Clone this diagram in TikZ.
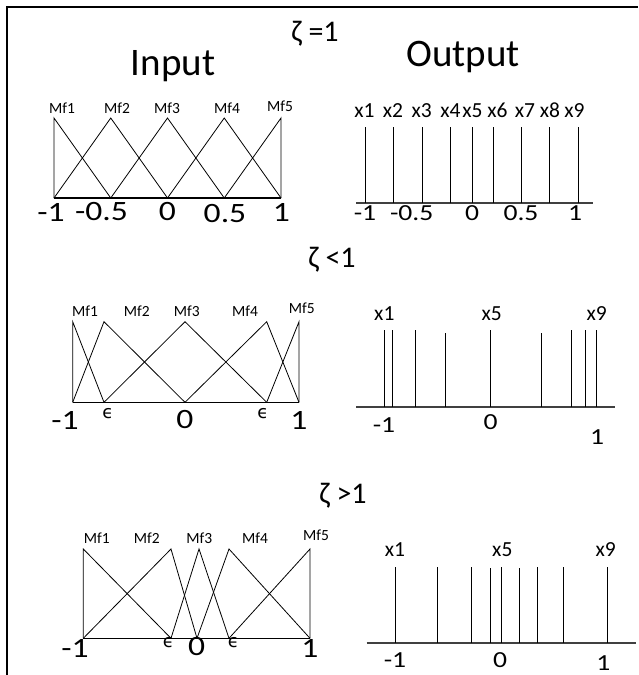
\documentclass[tikz,border=0pt]{standalone}
\usepackage{fontspec}
\setmainfont{Carlito}
\newfontfamily\epsfont{DejaVu Sans}
% tick numbers are set a little wider than the body font
\newcommand{\widenum}[1]{\scalebox{1.2}[1]{#1}}
\begin{document}
\begin{tikzpicture}[x=1pt,y=-1pt,
  frame/.style={line width=2pt},
  mf/.style={line width=0.8pt},
  axisin/.style={line width=1.2pt},
  axisout/.style={line width=1.6pt, black!75},
  spike/.style={line width=1pt},
  head/.style={font=\fontsize{39}{43}\selectfont, anchor=base, inner sep=0pt},
  zeta/.style={font=\fontsize{30}{34}\selectfont, anchor=base, inner sep=0pt},
  mflab/.style={font=\fontsize{15.5}{18}\selectfont, anchor=base, inner sep=0pt},
  xlab/.style={font=\fontsize{21.5}{25}\selectfont, anchor=base, inner sep=0pt},
  numin/.style={font=\fontsize{28}{32}\selectfont, inner sep=0pt},
  numout/.style={font=\fontsize{23}{27}\selectfont, inner sep=0pt},
  eps/.style={font=\epsfont\fontsize{18}{21}\selectfont, inner sep=0pt}]
\useasboundingbox (0,0) rectangle (638,675);

% border
\coordinate (fb) at (7,675);
\coordinate (fc) at (7,7);
\coordinate (fr) at (638,7);
\draw[frame] (fb) -- (fc) -- (fr);

% headings
\node[zeta] (z1) at (315,41) {ζ =1};
\node[head] (inp) at (173,75) {Input};
\node[head] (outp) at (463,66.5) {Output};
\node[zeta] (z2) at (332,267.3) {ζ <1};
\node[zeta] (z3) at (343,503.3) {ζ >1};

% ---------- zeta = 1 : input membership functions ----------
\foreach \i/\x in {1/54,2/110.75,3/167.5,4/224.25,5/281}{
  \coordinate (A\i) at (\x,198);
  \coordinate (P\i) at (\x,118);
}
\draw[axisin] (A1) -- (A5);
\draw[mf] (A1) -- (P1) -- (A2);
\draw[mf] (A1) -- (P2) -- (A3);
\draw[mf] (A2) -- (P3) -- (A4);
\draw[mf] (A3) -- (P4) -- (A5);
\draw[mf] (A4) -- (P5) -- (A5);
\node[mflab] (am1) at (62,113) {Mf1};
\node[mflab] (am2) at (117,113) {Mf2};
\node[mflab] (am3) at (167,113) {Mf3};
\node[mflab] (am4) at (227,113) {Mf4};
\node[mflab] (am5) at (280,111) {Mf5};
\node[numin] (an1) at (51,212) {\widenum{-1}};
\node[numin] (an2) at (101.5,212) {\widenum{-0.5}};
\node[numin] (an3) at (167.5,212) {\widenum{0}};
\node[numin] (an4) at (225,214) {\widenum{0.5}};
\node[numin] (an5) at (281.5,212) {\widenum{1}};

% ---------- zeta = 1 : output singletons ----------
\coordinate (BL) at (356,203);
\coordinate (BR) at (592.7,203);
\draw[axisout] (BL) -- (BR);
\foreach \i/\x/\lx in {1/365.7/364.5,2/393.7/393,3/422/421.7,4/450.3/450.5,5/472.3/472.5,6/493/497.5,7/521.3/525,8/549.7/550,9/578/574.5}{
  \coordinate (Bb\i) at (\x,203);
  \coordinate (Bt\i) at (\x,127);
  \draw[spike] (Bb\i) -- (Bt\i);
  \node[xlab] (bx\i) at (\lx,117) {x\i};
}
\node[numout] (bn1) at (365,213) {\widenum{-1}};
\node[numout] (bn2) at (411.7,213) {\widenum{-0.5}};
\node[numout] (bn3) at (472,213) {\widenum{0}};
\node[numout] (bn4) at (521,213) {\widenum{0.5}};
\node[numout] (bn5) at (575,213) {\widenum{1}};

% ---------- zeta < 1 : input membership functions ----------
\foreach \i/\x in {1/72.7,2/104,3/185,4/266.7,5/299}{
  \coordinate (C\i) at (\x,402.3);
  \coordinate (Q\i) at (\x,321.7);
}
\draw[axisin] (C1) -- (C5);
\draw[mf] (C1) -- (Q1) -- (C2);
\draw[mf] (C1) -- (Q2) -- (C3);
\draw[mf] (C2) -- (Q3) -- (C4);
\draw[mf] (C3) -- (Q4) -- (C5);
\draw[mf] (C4) -- (Q5) -- (C5);
\node[mflab] (cm1) at (85,316) {Mf1};
\node[mflab] (cm2) at (136.7,316) {Mf2};
\node[mflab] (cm3) at (186.7,316) {Mf3};
\node[mflab] (cm4) at (245,316) {Mf4};
\node[mflab] (cm5) at (301.7,313.3) {Mf5};
\node[numin] (cn1) at (65,420) {\widenum{-1}};
\node[eps] (ce1) at (108,414) {ϵ};
\node[numin] (cn3) at (185,420) {\widenum{0}};
\node[eps] (ce2) at (263,414) {ϵ};
\node[numin] (cn5) at (299,420) {\widenum{1}};

% ---------- zeta < 1 : output singletons ----------
\coordinate (DL) at (356,406.7);
\coordinate (DR) at (615,406.7);
\draw[axisout] (DL) -- (DR);
\foreach \i/\x/\t in {1/384.3/330,2/392.7/330,3/415.7/330,4/445/332.7,5/490.7/330,6/541.3/332.7,7/571/330,8/585.7/330,9/596.7/330}{
  \coordinate (Db\i) at (\x,406.7);
  \coordinate (Dt\i) at (\x,\t);
  \draw[spike] (Db\i) -- (Dt\i);
}
\node[xlab] (dx1) at (384.3,320) {x1};
\node[xlab] (dx5) at (491.7,320) {x5};
\node[xlab] (dx9) at (596.7,320) {x9};
\node[numout] (dn1) at (384,425) {\widenum{-1}};
\node[numout] (dn2) at (490.7,422) {\widenum{0}};
\node[numout] (dn3) at (597,437) {\widenum{1}};

% ---------- zeta > 1 : input membership functions ----------
\coordinate (E1) at (83.3,638.3);
\coordinate (E2) at (171,638.3);
\coordinate (E3) at (197,638.3);
\coordinate (E4) at (229,638.3);
\coordinate (E5) at (310,638.3);
\coordinate (R1) at (83.3,549);
\coordinate (R2) at (171,549);
\coordinate (R3) at (199,549);
\coordinate (R4) at (229,549);
\coordinate (R5) at (310,549);
\draw[axisin] (E1) -- (E5);
\draw[mf] (E1) -- (R1) -- (E2);
\draw[mf] (E1) -- (R2) -- (E3);
\draw[mf] (E2) -- (R3) -- (E4);
\draw[mf] (E3) -- (R4) -- (E5);
\draw[mf] (E4) -- (R5) -- (E5);
\node[mflab] (em1) at (96.7,543.3) {Mf1};
\node[mflab] (em2) at (146.7,543.3) {Mf2};
\node[mflab] (em3) at (199.3,543.3) {Mf3};
\node[mflab] (em4) at (255,543.3) {Mf4};
\node[mflab] (em5) at (316,540.5) {Mf5};
\node[numin] (en1) at (75,648) {\widenum{-1}};
\node[eps] (ee1) at (168.3,643) {ϵ};
\node[numin] (en3) at (196.7,647) {\widenum{0}};
\node[eps] (ee2) at (233.3,643) {ϵ};
\node[numin] (en5) at (310,648) {\widenum{1}};

% ---------- zeta > 1 : output singletons ----------
\coordinate (FL) at (366.7,642.7);
\coordinate (FR) at (636,642.7);
\draw[axisout] (FL) -- (FR);
\foreach \i/\x/\t in {1/395/566.7,2/437.3/566.7,3/471.7/566.7,4/490/568.3,5/501.3/566.7,6/519.3/568.3,7/537/566.7,8/563.7/566.7,9/607.3/566.7}{
  \coordinate (Fb\i) at (\x,642.7);
  \coordinate (Ft\i) at (\x,\t);
  \draw[spike] (Fb\i) -- (Ft\i);
}
\node[xlab] (fx1) at (395,556.7) {x1};
\node[xlab] (fx5) at (502.3,556.7) {x5};
\node[xlab] (fx9) at (605.7,556.7) {x9};
\node[numout] (fn1) at (395,660) {\widenum{-1}};
\node[numout] (fn2) at (500,660) {\widenum{0}};
\node[numout] (fn3) at (603.3,663.3) {\widenum{1}};
\end{tikzpicture}
\end{document}
